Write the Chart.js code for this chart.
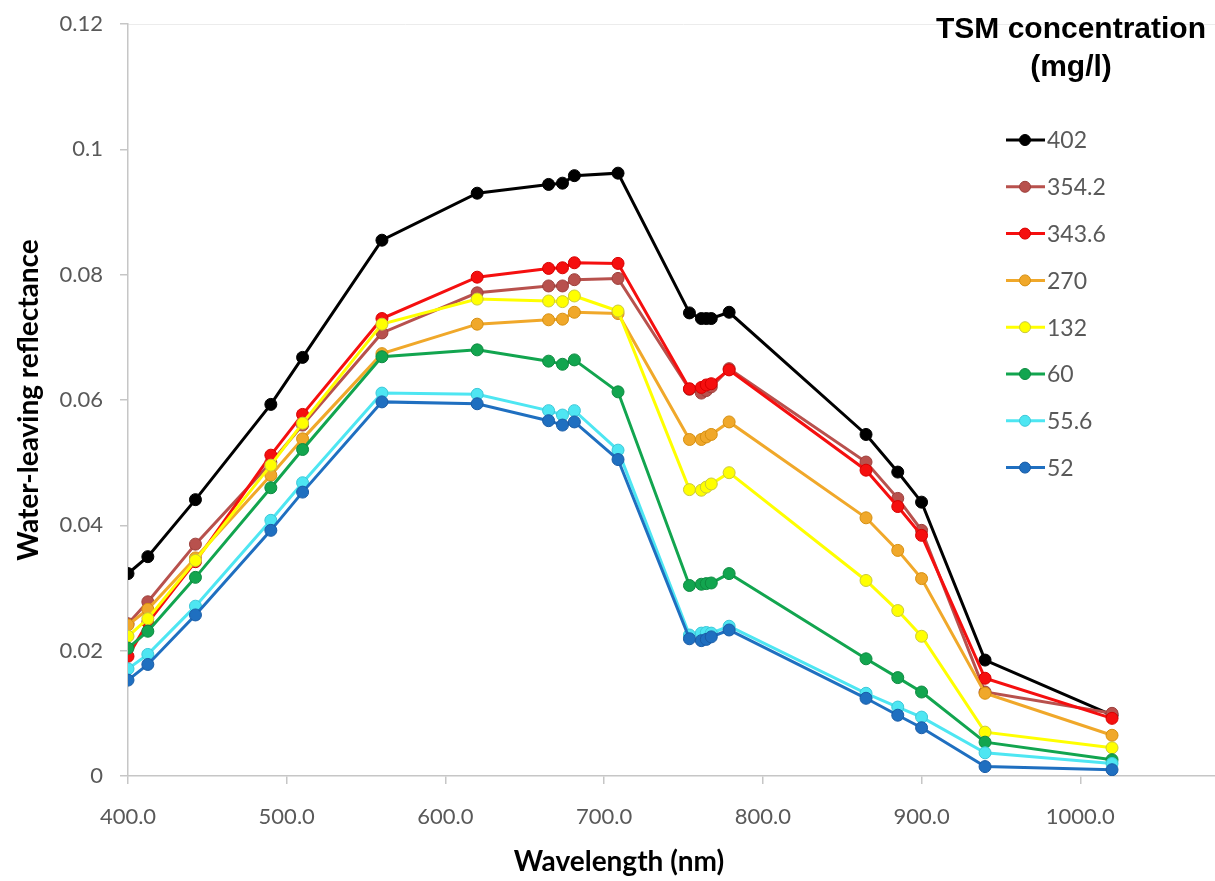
<!DOCTYPE html>
<html>
<head>
<meta charset="utf-8">
<script src="https://cdn.jsdelivr.net/npm/chart.js@4"></script>
<style>
  html, body { margin: 0; padding: 0; background: #fff; overflow: hidden; }
  #wrap { width: 1280px; height: 881px; }
</style>
</head>
<body>
<div id="wrap"><canvas id="tsmChart" width="1280" height="881"></canvas></div>
<script>
// OLCI band centres (nm)
const wavelengths = [400, 412.5, 442.5, 490, 510, 560, 620, 665, 673.75, 681.25, 708.75,
    753.75, 761.25, 764.375, 767.5, 778.75, 865, 885, 900, 940, 1020];

// TSM concentration labels (mg/l)
const tsmLabels = ['402', '354.2', '343.6', '270', '132', '60', '55.6', '52'];

// water-leaving reflectance per sample
const tsm402 = [0.0323, 0.0350, 0.0441, 0.0593, 0.0668, 0.0855, 0.0930, 0.0944, 0.0946, 0.0958, 0.0962,
    0.0739, 0.0730, 0.0730, 0.0730, 0.0740, 0.0545, 0.0485, 0.0437, 0.0185, 0.0097];
const tsm354 = [0.0243, 0.0278, 0.0370, 0.0500, 0.0560, 0.0707, 0.0771, 0.0782, 0.0782, 0.0792, 0.0794,
    0.0617, 0.0611, 0.0615, 0.0621, 0.0650, 0.0501, 0.0443, 0.0392, 0.0134, 0.0100];
const tsm343 = [0.0191, 0.0245, 0.0342, 0.0512, 0.0577, 0.0730, 0.0796, 0.0810, 0.0811, 0.0819, 0.0818,
    0.0618, 0.0620, 0.0624, 0.0626, 0.0648, 0.0488, 0.0430, 0.0384, 0.0156, 0.0092];
const tsm270 = [0.0241, 0.0266, 0.0348, 0.0480, 0.0538, 0.0674, 0.0721, 0.0728, 0.0729, 0.0740, 0.0738,
    0.0537, 0.0537, 0.0541, 0.0545, 0.0565, 0.0412, 0.0360, 0.0315, 0.0132, 0.0065];
const tsm132 = [0.0223, 0.0251, 0.0344, 0.0496, 0.0563, 0.0721, 0.0761, 0.0758, 0.0757, 0.0766, 0.0742,
    0.0457, 0.0456, 0.0461, 0.0466, 0.0484, 0.0312, 0.0264, 0.0223, 0.0070, 0.0045];
const tsm60 = [0.0204, 0.0231, 0.0317, 0.0460, 0.0521, 0.0669, 0.0680, 0.0662, 0.0657, 0.0664, 0.0613,
    0.0304, 0.0306, 0.0307, 0.0308, 0.0323, 0.0187, 0.0157, 0.0134, 0.0054, 0.0026];
const tsm55 = [0.0171, 0.0194, 0.0271, 0.0408, 0.0468, 0.0611, 0.0609, 0.0583, 0.0576, 0.0583, 0.0520,
    0.0225, 0.0228, 0.0229, 0.0228, 0.0239, 0.0132, 0.0110, 0.0094, 0.0037, 0.0020];
const tsm52 = [0.0153, 0.0178, 0.0257, 0.0392, 0.0453, 0.0597, 0.0594, 0.0567, 0.0560, 0.0565, 0.0505,
    0.0219, 0.0216, 0.0218, 0.0222, 0.0233, 0.0124, 0.0097, 0.0077, 0.0015, 0.0010];

const seriesValues = [tsm402, tsm354, tsm343, tsm270, tsm132, tsm60, tsm55, tsm52];

const lineColors = ['#000000', '#b8514d', '#f50f0f', '#f0a82a', '#ffff00', '#12a54f', '#4ee6f2', '#1f6fc0'];
const markerEdges = ['#000000', '#9c3f3b', '#d80000', '#d68f10', '#c9c83a', '#0d8a40', '#3cc8d8', '#1a5ca6'];

const datasets = seriesValues.map(function(vals, i) {
    return {
        label: tsmLabels[i],
        data: wavelengths.map(function(w, j) { return { x: w, y: vals[j] }; }),
        borderColor: lineColors[i],
        backgroundColor: lineColors[i],
        pointBackgroundColor: lineColors[i],
        pointBorderColor: markerEdges[i],
        pointBorderWidth: 1,
        pointRadius: 6,
        borderWidth: 3,
        tension: 0,
        order: seriesValues.length - 1 - i   // later series on top, like Excel
    };
});

// legend + axis titles drawn inside the plot like the original
const decorPlugin = {
    id: 'decor',
    beforeDraw: function(chart) {
        const ctx = chart.ctx;
        const a = chart.chartArea;
        ctx.save();
        ctx.strokeStyle = '#ececec';
        ctx.lineWidth = 1;
        ctx.beginPath();
        ctx.moveTo(a.left, a.top + 0.5);
        ctx.lineTo(a.right, a.top + 0.5);
        ctx.stroke();
        ctx.restore();
    },
    afterDraw: function(chart) {
        const ctx = chart.ctx;
        ctx.save();

        // axis titles
        ctx.fillStyle = '#000';
        ctx.font = 'bold 28px Lato';
        ctx.textAlign = 'center';
        ctx.textBaseline = 'middle';
        ctx.fillText('Wavelength (nm)', 619, 862);
        ctx.save();
        ctx.translate(29, 400);
        ctx.rotate(-Math.PI / 2);
        ctx.fillText('Water-leaving reflectance', 0, 0);
        ctx.restore();

        // legend title
        ctx.font = 'bold 30px "Liberation Sans", Arial';
        ctx.fillText('TSM concentration', 1071, 30);
        ctx.fillText('(mg/l)', 1071, 68);

        // legend entries
        ctx.font = '23px Lato';
        ctx.textAlign = 'left';
        tsmLabels.forEach(function(lbl, i) {
            const y = 140 + i * 46.8;
            ctx.strokeStyle = lineColors[i];
            ctx.lineWidth = 3;
            ctx.beginPath();
            ctx.moveTo(1006, y);
            ctx.lineTo(1045, y);
            ctx.stroke();
            ctx.beginPath();
            ctx.arc(1025, y, 5.5, 0, Math.PI * 2);
            ctx.fillStyle = lineColors[i];
            ctx.fill();
            ctx.lineWidth = 1;
            ctx.strokeStyle = markerEdges[i];
            ctx.stroke();
            ctx.fillStyle = '#595959';
            ctx.fillText(lbl, 1047, y + 1);
        });
        ctx.restore();
    }
};

const ctx = document.getElementById('tsmChart').getContext('2d');
const tsmChart = new Chart(ctx, {
    type: 'line',
    data: { datasets: datasets },
    options: {
        responsive: false,
        animation: false,
        layout: { padding: { left: 0, top: 24, right: 41, bottom: 0 } },
        plugins: {
            legend: { display: false },
            tooltip: { enabled: false }
        },
        scales: {
            x: {
                type: 'linear',
                min: 400,
                max: 1100,
                afterFit: function(s) { s.height = 105; },
                border: { display: true, color: '#c6c6c6', width: 1.5 },
                grid: { display: true, drawOnChartArea: false, drawTicks: true, tickLength: 8, color: '#c6c6c6', lineWidth: 1.5 },
                ticks: {
                    stepSize: 100,
                    padding: 20,
                    color: '#595959',
                    font: { family: 'Lato', size: 22 },
                    maxRotation: 0,
                    // the 1100 label falls outside the cropped picture
                    callback: function(v) { return v > 1000 ? '' : v.toFixed(1); }
                }
            },
            y: {
                min: 0,
                max: 0.12,
                afterFit: function(s) { s.width = 128; s.paddingTop = 0; s.paddingBottom = 0; },
                border: { display: true, color: '#c6c6c6', width: 1.5 },
                grid: { display: true, drawOnChartArea: false, drawTicks: true, tickLength: 8, color: '#c6c6c6', lineWidth: 1.5 },
                ticks: {
                    stepSize: 0.02,
                    padding: 17,
                    color: '#595959',
                    font: { family: 'Lato', size: 22 },
                    callback: function(v) { return String(+v.toFixed(2)); }
                }
            }
        }
    },
    plugins: [decorPlugin]
});
</script>
</body>
</html>
